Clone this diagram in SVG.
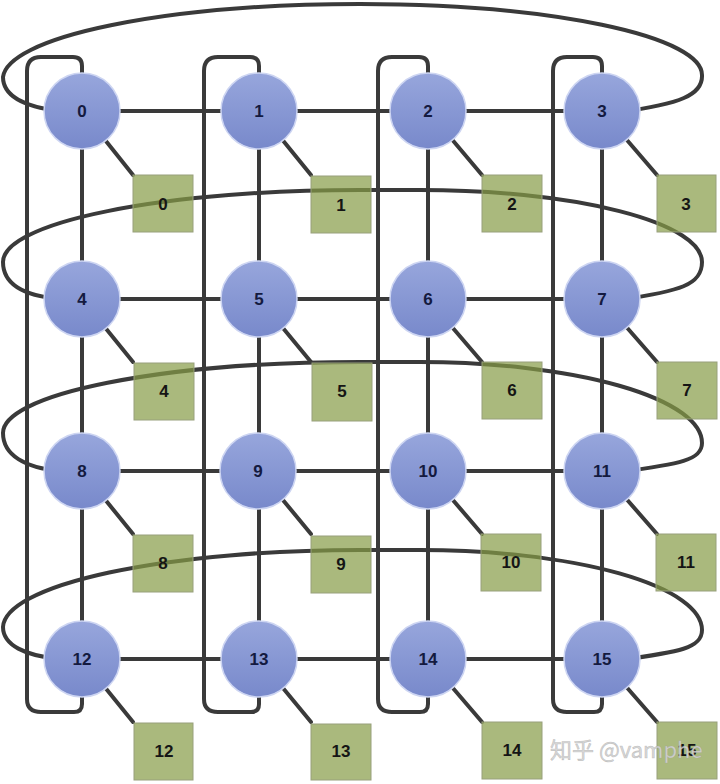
<svg xmlns="http://www.w3.org/2000/svg" width="720" height="784" viewBox="0 0 720 784">
<defs>
<linearGradient id="gc" x1="0" y1="0" x2="0" y2="1">
<stop offset="0" stop-color="#97a6dc"/>
<stop offset="1" stop-color="#7889cb"/>
</linearGradient>
</defs>
<style>
.ln{fill:none;stroke:#3a3a3a;stroke-width:4;stroke-linecap:round;stroke-linejoin:round}
.nd circle{fill:url(#gc);stroke:#cdd5f2;stroke-width:1.5}
.nd text{font-family:"Liberation Sans",Arial,sans-serif;font-weight:bold;font-size:17px;fill:#141a40;text-anchor:middle}
.pe rect{fill:#869b46;fill-opacity:0.7;stroke:#98a07c;stroke-width:1}
.pe text{font-family:"Liberation Sans",Arial,sans-serif;font-weight:bold;font-size:17px;fill:#151515;text-anchor:middle}
.wm{font-family:"Noto Sans CJK SC","Liberation Sans",sans-serif;font-size:22px;fill:#d4d4d4;fill-opacity:0.9;stroke:#9a9a9a;stroke-width:0.6;stroke-opacity:0.5}
</style>
<rect width="720" height="784" fill="#ffffff"/>
<g id="connectors">
<!-- horizontal row links -->
<path class="ln" d="M82,111H602M82,299H602M82,471H602M82,659H602"/>
<!-- vertical column links -->
<path class="ln" d="M82,111V659M259,111V659M428,111V659M602,111V659"/>
<!-- node to PE links -->
<path class="ln" d="M82,111L133,175M259,111L311,175M428,111L482,175M602,111L657,175"/>
<path class="ln" d="M82,299L133,362M259,299L311,362M428,299L482,362M602,299L657,362"/>
<path class="ln" d="M82,471L133,534M259,471L311,534M428,471L482,534M602,471L657,534"/>
<path class="ln" d="M82,659L133,722M259,659L311,722M428,659L482,722M602,659L657,722"/>
<!-- vertical wraparound loops -->
<path class="ln" d="M82,90V66Q82,57 73,57H41Q27,57 27,71V699Q27,712 41,712H74Q82,712 82,704V680"/>
<path class="ln" d="M259,90V66Q259,57 250,57H218Q204,57 204,71V699Q204,712 218,712H251Q259,712 259,704V680"/>
<path class="ln" d="M428,90V66Q428,57 419,57H392Q378,57 378,71V699Q378,712 392,712H420Q428,712 428,704V680"/>
<path class="ln" d="M602,90V66Q602,57 593,57H567Q553,57 553,71V699Q553,712 567,712H594Q602,712 602,704V680"/>
<!-- horizontal wraparound loops -->
<path class="ln" d="M60,111C25,107 3,96 3,77A357 75 0 0 1 360,4A342 71 0 0 1 702,75C703,95 680,104 620,112"/>
<path class="ln" d="M60,299C25,296 3,285 3,262A357 72 0 0 1 360,190L420,190A282 72 0 0 1 702,262C702,285 680,291 620,300"/>
<path class="ln" d="M60,471C25,468 3,455 3,433A357 71 0 0 1 360,362L420,362A282 81 0 0 1 702,443C702,460 680,464 620,472"/>
<path class="ln" d="M60,659C25,656 3,645 3,627A357 78 0 0 1 360,550L420,550A282 80 0 0 1 702,630C702,648 680,652 620,660"/>
</g>
<g id="pe0" class="pe"><rect x="133" y="175" width="60" height="57"/><text x="163" y="210">0</text></g>
<g id="pe1" class="pe"><rect x="311" y="176" width="60" height="57"/><text x="341" y="211">1</text></g>
<g id="pe2" class="pe"><rect x="482" y="175" width="60" height="57"/><text x="512" y="210">2</text></g>
<g id="pe3" class="pe"><rect x="657" y="175" width="59" height="57"/><text x="686" y="210">3</text></g>
<g id="pe4" class="pe"><rect x="134" y="363" width="60" height="57"/><text x="164" y="397">4</text></g>
<g id="pe5" class="pe"><rect x="312" y="363" width="60" height="58"/><text x="342" y="397">5</text></g>
<g id="pe6" class="pe"><rect x="482" y="362" width="60" height="57"/><text x="512" y="396">6</text></g>
<g id="pe7" class="pe"><rect x="657" y="362" width="60" height="57"/><text x="687" y="396">7</text></g>
<g id="pe8" class="pe"><rect x="133" y="535" width="60" height="57"/><text x="163" y="569">8</text></g>
<g id="pe9" class="pe"><rect x="311" y="536" width="60" height="57"/><text x="341" y="570">9</text></g>
<g id="pe10" class="pe"><rect x="481" y="534" width="60" height="57"/><text x="511" y="568">10</text></g>
<g id="pe11" class="pe"><rect x="656" y="534" width="60" height="57"/><text x="686" y="568">11</text></g>
<g id="pe12" class="pe"><rect x="134" y="723" width="59" height="57"/><text x="164" y="757">12</text></g>
<g id="pe13" class="pe"><rect x="311" y="724" width="60" height="56"/><text x="341" y="757">13</text></g>
<g id="pe14" class="pe"><rect x="482" y="722" width="60" height="57"/><text x="512" y="756">14</text></g>
<g id="pe15" class="pe"><rect x="657" y="722" width="60" height="57"/><text x="687" y="756">15</text></g>
<g id="n0" class="nd"><circle cx="82" cy="111" r="38"/><text x="82" y="117">0</text></g>
<g id="n1" class="nd"><circle cx="259" cy="111" r="38"/><text x="259" y="117">1</text></g>
<g id="n2" class="nd"><circle cx="428" cy="111" r="38"/><text x="428" y="117">2</text></g>
<g id="n3" class="nd"><circle cx="602" cy="111" r="38"/><text x="602" y="117">3</text></g>
<g id="n4" class="nd"><circle cx="82" cy="299" r="38"/><text x="82" y="305">4</text></g>
<g id="n5" class="nd"><circle cx="259" cy="299" r="38"/><text x="259" y="305">5</text></g>
<g id="n6" class="nd"><circle cx="428" cy="299" r="38"/><text x="428" y="305">6</text></g>
<g id="n7" class="nd"><circle cx="602" cy="299" r="38"/><text x="602" y="305">7</text></g>
<g id="n8" class="nd"><circle cx="82" cy="471" r="38"/><text x="82" y="477">8</text></g>
<g id="n9" class="nd"><circle cx="258" cy="471" r="38"/><text x="258" y="477">9</text></g>
<g id="n10" class="nd"><circle cx="428" cy="471" r="38"/><text x="428" y="477">10</text></g>
<g id="n11" class="nd"><circle cx="602" cy="471" r="38"/><text x="602" y="477">11</text></g>
<g id="n12" class="nd"><circle cx="82" cy="659" r="38"/><text x="82" y="665">12</text></g>
<g id="n13" class="nd"><circle cx="259" cy="659" r="38"/><text x="259" y="665">13</text></g>
<g id="n14" class="nd"><circle cx="428" cy="659" r="38"/><text x="428" y="665">14</text></g>
<g id="n15" class="nd"><circle cx="602" cy="659" r="38"/><text x="602" y="665">15</text></g>
<text class="wm" x="550" y="758">知乎 @vamphe</text>
</svg>
